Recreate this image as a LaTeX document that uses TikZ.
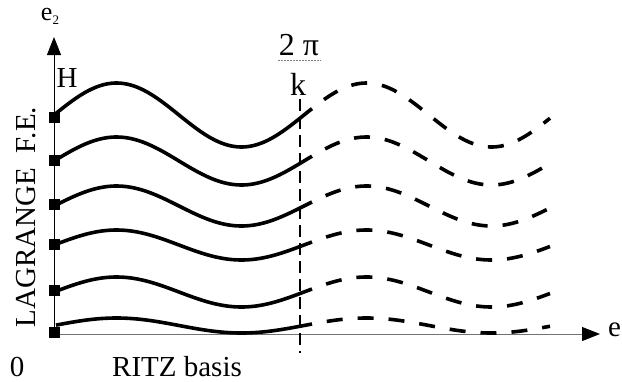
\documentclass[tikz,border=0pt]{standalone}
\usepackage{fontspec}
\setmainfont{Liberation Serif}
\usetikzlibrary{arrows.meta}
\begin{document}
\begin{tikzpicture}[x=1pt,y=-1pt,
  lbl/.style={font=\fontsize{29}{31}\selectfont, inner sep=0pt},
  big/.style={font=\fontsize{32}{34}\selectfont, inner sep=0pt},
  axis/.style={line width=1pt},
  tip/.style={-{Triangle[length=18pt,width=14pt]}},
  sq/.style={fill=black, minimum size=11pt, inner sep=0pt},
  solidcurve/.style={line width=3.6pt},
  dashcurve/.style={line width=3.6pt, dash pattern=on 16pt off 15pt, dash phase=16pt},
  period/.style={line width=1.3pt, dash pattern=on 12pt off 6pt}]
\useasboundingbox (0,0) rectangle (622,381);
% axes
\coordinate (O) at (54,337);
\coordinate (ytip) at (54,37);
\coordinate (xstart) at (54,334);
\coordinate (xtip) at (600,334);
\draw[axis,tip] (O) -- (ytip);
\draw[axis,black!55,-{Triangle[length=18pt,width=14pt,black]}] (xstart) -- (xtip);
% labels
\node[anchor=base, inner sep=0pt] (e2) at (50,20) {\fontsize{26}{26}\selectfont e\raisebox{-4pt}{\fontsize{13}{13}\selectfont 2}};
\node[lbl, anchor=base west] (e1) at (608,336) {e};
\node[lbl, anchor=base] (H) at (67,87) {H};
\node[lbl, anchor=base] (zero) at (17,376) {0};
\node[lbl, anchor=base] (ritz) at (177,376) {RITZ basis};
\node[lbl, anchor=base, rotate=90] (lag) at (35,217) {LAGRANGE\ \ F.E.};
\node[big, anchor=base] (num) at (299,55) {2 π};
\coordinate (barL) at (278,60);
\coordinate (barR) at (321,60);
\draw[black!50, line width=0.9pt, dash pattern=on 2pt off 1pt] (barL) -- (barR);
\node[big, anchor=base] (k) at (298,95) {k};
\coordinate (pTop) at (300,99);
\coordinate (pBot) at (300,353);
\draw[period] (pTop) -- (pBot);
% curves
\foreach \c/\A/\s [count=\i] in {115/32/117, 161/24/160, 206/20/204, 245/15/244, 292/15/290, 325.5/7.5/332}{
  \node[sq] (sq\i) at (54,\s) {};
  \draw[solidcurve] plot[domain=56:312, samples=80, smooth] (\x, {\c-\A*sin(1.44*(\x-54))});
  \draw[dashcurve] plot[domain=312:550, samples=80, smooth] (\x, {\c-\A*sin(1.44*(\x-54))});
}
\end{tikzpicture}
\end{document}
